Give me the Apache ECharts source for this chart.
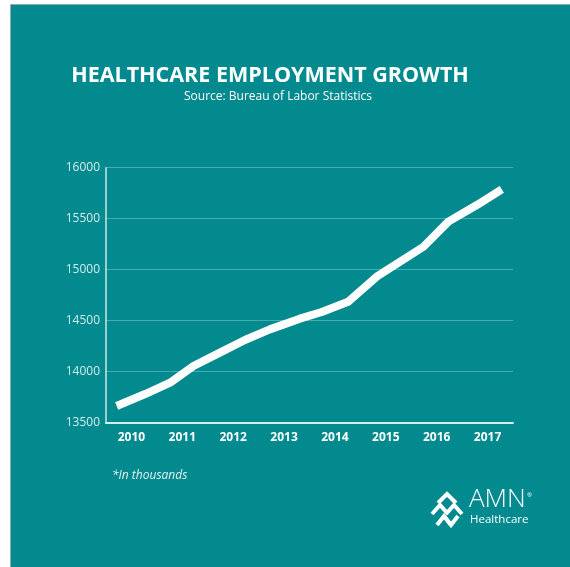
<!DOCTYPE html>
<html>
<head>
<meta charset="utf-8">
<script src="https://cdn.jsdelivr.net/npm/echarts@6/dist/echarts.min.js"></script>
<style>
html,body{margin:0;padding:0;background:#ffffff;}
#c{width:570px;height:567px;}
</style>
</head>
<body>
<div id="c"></div>
<script>
// Year labels on the x axis
var yearLabels = [2010, 2011, 2012, 2013, 2014, 2015, 2016, 2017];
// Line points: position in years
var pointYears = [2009.71, 2010.27, 2010.76, 2011.22, 2011.71, 2012.23, 2012.72, 2013.31, 2013.74, 2014.26, 2014.82, 2015.74, 2016.23, 2016.79, 2017.28];
// Employment values, in thousands
var employment = [13664, 13781, 13892, 14056, 14180, 14311, 14415, 14520, 14585, 14686, 14931, 15225, 15471, 15634, 15788];
// Y axis ticks
var yTicks = [13500, 14000, 14500, 15000, 15500, 16000];

var teal = '#028a8f';
var chart = echarts.init(document.getElementById('c'), null, {renderer: 'canvas'});

var lineData = pointYears.map(function (x, i) { return [x, employment[i]]; });

var option = {
  animation: false,
  backgroundColor: '#ffffff',
  textStyle: {fontFamily: 'Open Sans'},
  title: [{
    text: 'HEALTHCARE EMPLOYMENT GROWTH',
    left: 265, top: 60, textAlign: 'center',
    textStyle: {color: '#ffffff', fontSize: 21.5, fontWeight: 'bold', fontFamily: 'Open Sans'}
  }, {
    text: 'Source: Bureau of Labor Statistics',
    left: 273, top: 86, textAlign: 'center',
    textStyle: {color: '#ffffff', fontSize: 12, fontWeight: 'normal', fontFamily: 'Open Sans'}
  }],
  grid: {left: 106, right: 57, top: 167.7, bottom: 144.3, containLabel: false},
  xAxis: {
    type: 'value',
    min: 2009.5, max: 2017.5,
    axisLine: {show: true, onZero: false, lineStyle: {color: '#d4ecec', width: 2}},
    axisTick: {show: false},
    splitLine: {show: false},
    axisLabel: {
      customValues: yearLabels,
      color: '#ffffff', fontWeight: 'bold', fontSize: 12, fontFamily: 'Open Sans',
      margin: 9,
      formatter: function (v) { return String(v); }
    }
  },
  yAxis: {
    type: 'value',
    min: yTicks[0], max: yTicks[yTicks.length - 1], interval: 500,
    axisLine: {show: true, lineStyle: {color: '#cfe7e7', width: 1.5}},
    axisTick: {show: false},
    splitLine: {show: true, lineStyle: {color: 'rgba(255,255,255,0.28)', width: 1}},
    axisLabel: {color: '#d6ecec', fontSize: 12, margin: 6, fontFamily: 'Open Sans',
      formatter: function (v) { return String(v); }}
  },
  series: [{
    type: 'line',
    data: lineData,
    symbol: 'none',
    lineStyle: {color: '#ffffff', width: 8, cap: 'butt', join: 'round'},
    z: 5
  }],
  graphic: [
    {type: 'rect', z: -10, shape: {x: 10.5, y: 4.5, width: 570, height: 570},
     style: {fill: teal, stroke: '#9aa7a8', lineWidth: 1}},
    {type: 'text', left: 112, top: 470,
     style: {text: '*In thousands', fill: '#e3f1f1', font: 'italic 12px "Open Sans"'}},
    // logo text
    {type: 'text', left: 469, top: 487,
     style: {text: 'AMN', fill: '#ffffff', font: '300 26px "Open Sans"'}},
    {type: 'text', left: 527, top: 492,
     style: {text: '®', fill: '#ffffff', font: '6px "Open Sans"'}},
    {type: 'text', left: 470, top: 514,
     style: {text: 'Healthcare', fill: '#ffffff', font: '11.5px "Open Sans"'}},
    // logo icon (chevrons)
    {type: 'polyline', shape: {points: [[438, 503], [447, 494], [456, 503]]},
     style: {stroke: '#fff', lineWidth: 4, fill: null}},
    {type: 'polyline', shape: {points: [[432, 514], [440, 505], [448, 514]]},
     style: {stroke: '#fff', lineWidth: 4, fill: null}},
    {type: 'polyline', shape: {points: [[446, 514], [454, 505], [462, 514]]},
     style: {stroke: '#fff', lineWidth: 4, fill: null}},
    {type: 'polyline', shape: {points: [[437, 525], [444, 516], [451, 525]]},
     style: {stroke: '#fff', lineWidth: 4, fill: null}},
    {type: 'polyline', shape: {points: [[444, 516], [451, 525], [458, 516]]},
     style: {stroke: '#fff', lineWidth: 4, fill: null}}
  ]
};
chart.setOption(option);
</script>
</body>
</html>
